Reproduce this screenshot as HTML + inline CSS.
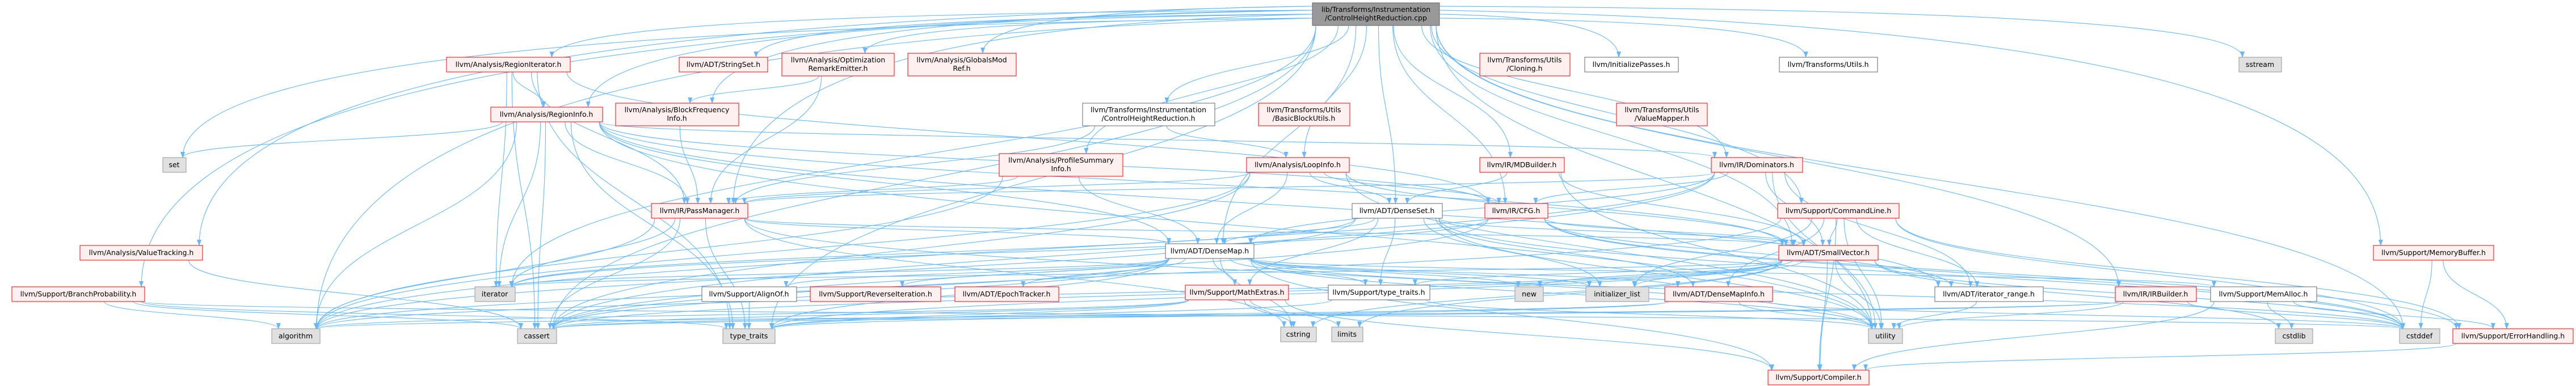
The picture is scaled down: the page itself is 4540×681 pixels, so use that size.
<!DOCTYPE html>
<html><head><meta charset="utf-8"><style>
html,body{margin:0;padding:0;background:#fff;}
svg{display:block;}
text{font-family:"DejaVu Sans","Liberation Sans",sans-serif;font-size:12.5px;fill:#000;text-anchor:middle;}
</style></head><body>
<svg id="g" width="4540" height="681" viewBox="0 0 4540 681" xmlns="http://www.w3.org/2000/svg">
<defs><marker id="a" markerWidth="11" markerHeight="8" refX="10" refY="4" orient="auto" markerUnits="userSpaceOnUse"><path d="M0,0 L11,4 L0,8 z" fill="#63b8ff"/></marker></defs>
<g id="edges" fill="none" stroke="#63b8ff" stroke-width="1.1"></g>
<g id="nodes">
<rect x="2313" y="5" width="224" height="40" fill="#999" stroke="#666"/><text x="2425" y="21">lib/Transforms/Instrumentation</text><text x="2425" y="36">/ControlHeightReduction.cpp</text>

<rect x="787" y="101" width="218" height="26" fill="#fff0f0" stroke="#f00"/><text x="896" y="118">llvm/Analysis/RegionIterator.h</text>
<rect x="1197" y="101" width="156" height="26" fill="#fff0f0" stroke="#f00"/><text x="1275" y="118">llvm/ADT/StringSet.h</text>
<rect x="1378" y="94" width="198" height="40" fill="#fff0f0" stroke="#f00"/><text x="1477" y="110">llvm/Analysis/Optimization</text><text x="1477" y="125">RemarkEmitter.h</text>
<rect x="1600" y="94" width="191" height="40" fill="#fff0f0" stroke="#f00"/><text x="1695" y="110">llvm/Analysis/GlobalsMod</text><text x="1695" y="125">Ref.h</text>
<rect x="2608" y="94" width="159" height="40" fill="#fff0f0" stroke="#f00"/><text x="2687" y="110">llvm/Transforms/Utils</text><text x="2687" y="125">/Cloning.h</text>
<rect x="2793" y="101" width="165" height="26" fill="#fff" stroke="#666"/><text x="2875" y="118">llvm/InitializePasses.h</text>
<rect x="3136" y="101" width="173" height="26" fill="#fff" stroke="#666"/><text x="3222" y="118">llvm/Transforms/Utils.h</text>
<rect x="3946" y="101" width="75" height="26" fill="#e0e0e0" stroke="#999"/><text x="3983" y="118">sstream</text>

<rect x="865" y="189" width="197" height="26" fill="#fff0f0" stroke="#f00"/><text x="963" y="206">llvm/Analysis/RegionInfo.h</text>
<rect x="1085" y="182" width="217" height="40" fill="#fff0f0" stroke="#f00"/><text x="1193" y="198">llvm/Analysis/BlockFrequency</text><text x="1193" y="213">Info.h</text>
<rect x="1908" y="182" width="233" height="40" fill="#fff" stroke="#666"/><text x="2024" y="198">llvm/Transforms/Instrumentation</text><text x="2024" y="213">/ControlHeightReduction.h</text>
<rect x="2218" y="182" width="161" height="40" fill="#fff0f0" stroke="#f00"/><text x="2298" y="198">llvm/Transforms/Utils</text><text x="2298" y="213">/BasicBlockUtils.h</text>
<rect x="2849" y="182" width="160" height="40" fill="#fff0f0" stroke="#f00"/><text x="2929" y="198">llvm/Transforms/Utils</text><text x="2929" y="213">/ValueMapper.h</text>

<rect x="287" y="278" width="41" height="26" fill="#e0e0e0" stroke="#999"/><text x="307" y="295">set</text>
<rect x="1761" y="271" width="218" height="40" fill="#fff0f0" stroke="#f00"/><text x="1870" y="287">llvm/Analysis/ProfileSummary</text><text x="1870" y="302">Info.h</text>
<rect x="2197" y="278" width="181" height="26" fill="#fff0f0" stroke="#f00"/><text x="2287" y="295">llvm/Analysis/LoopInfo.h</text>
<rect x="2608" y="278" width="149" height="26" fill="#fff0f0" stroke="#f00"/><text x="2682" y="295">llvm/IR/MDBuilder.h</text>
<rect x="3016" y="278" width="161" height="26" fill="#fff0f0" stroke="#f00"/><text x="3096" y="295">llvm/IR/Dominators.h</text>

<rect x="1148" y="359" width="170" height="26" fill="#fff0f0" stroke="#f00"/><text x="1233" y="376">llvm/IR/PassManager.h</text>
<rect x="2383" y="359" width="159" height="26" fill="#fff" stroke="#666"/><text x="2462" y="376">llvm/ADT/DenseSet.h</text>
<rect x="2617" y="359" width="111" height="26" fill="#fff0f0" stroke="#f00"/><text x="2672" y="376">llvm/IR/CFG.h</text>
<rect x="3133" y="359" width="214" height="26" fill="#fff0f0" stroke="#f00"/><text x="3240" y="376">llvm/Support/CommandLine.h</text>

<rect x="141" y="433" width="216" height="26" fill="#fff0f0" stroke="#f00"/><text x="249" y="450">llvm/Analysis/ValueTracking.h</text>
<rect x="2054" y="430" width="156" height="26" fill="#fff" stroke="#666"/><text x="2132" y="447">llvm/ADT/DenseMap.h</text>
<rect x="3135" y="433" width="175" height="26" fill="#fff0f0" stroke="#f00"/><text x="3222" y="450">llvm/ADT/SmallVector.h</text>
<rect x="4183" y="433" width="212" height="26" fill="#fff0f0" stroke="#f00"/><text x="4289" y="450">llvm/Support/MemoryBuffer.h</text>

<rect x="21" y="506" width="234" height="26" fill="#fff0f0" stroke="#f00"/><text x="138" y="523">llvm/Support/BranchProbability.h</text>
<rect x="837" y="506" width="71" height="26" fill="#e0e0e0" stroke="#999"/><text x="872" y="523">iterator</text>
<rect x="1237" y="506" width="167" height="26" fill="#fff" stroke="#666"/><text x="1320" y="523">llvm/Support/AlignOf.h</text>
<rect x="1428" y="506" width="230" height="26" fill="#fff0f0" stroke="#f00"/><text x="1543" y="523">llvm/Support/ReverseIteration.h</text>
<rect x="1683" y="506" width="183" height="26" fill="#fff0f0" stroke="#f00"/><text x="1774" y="523">llvm/ADT/EpochTracker.h</text>
<rect x="2089" y="503" width="182" height="26" fill="#fff0f0" stroke="#f00"/><text x="2180" y="520">llvm/Support/MathExtras.h</text>
<rect x="2341" y="503" width="179" height="26" fill="#fff" stroke="#666"/><text x="2430" y="520">llvm/Support/type_traits.h</text>
<rect x="2670" y="506" width="50" height="26" fill="#e0e0e0" stroke="#999"/><text x="2695" y="523">new</text>
<rect x="2795" y="506" width="111" height="26" fill="#e0e0e0" stroke="#999"/><text x="2850" y="523">initializer_list</text>
<rect x="2934" y="506" width="190" height="26" fill="#fff0f0" stroke="#f00"/><text x="3029" y="523">llvm/ADT/DenseMapInfo.h</text>
<rect x="3410" y="506" width="191" height="26" fill="#fff" stroke="#666"/><text x="3505" y="523">llvm/ADT/iterator_range.h</text>
<rect x="3728" y="506" width="143" height="26" fill="#fff0f0" stroke="#f00"/><text x="3799" y="523">llvm/IR/IRBuilder.h</text>
<rect x="3896" y="506" width="187" height="26" fill="#fff" stroke="#666"/><text x="3989" y="523">llvm/Support/MemAlloc.h</text>

<rect x="479" y="580" width="85" height="26" fill="#e0e0e0" stroke="#999"/><text x="521" y="597">algorithm</text>
<rect x="912" y="580" width="69" height="26" fill="#e0e0e0" stroke="#999"/><text x="946" y="597">cassert</text>
<rect x="1274" y="580" width="92" height="26" fill="#e0e0e0" stroke="#999"/><text x="1320" y="597">type_traits</text>
<rect x="2257" y="577" width="63" height="26" fill="#e0e0e0" stroke="#999"/><text x="2288" y="594">cstring</text>
<rect x="2347" y="577" width="55" height="26" fill="#e0e0e0" stroke="#999"/><text x="2374" y="594">limits</text>
<rect x="3293" y="580" width="60" height="26" fill="#e0e0e0" stroke="#999"/><text x="3323" y="597">utility</text>
<rect x="4010" y="580" width="66" height="26" fill="#e0e0e0" stroke="#999"/><text x="4043" y="597">cstdlib</text>
<rect x="4229" y="580" width="71" height="26" fill="#e0e0e0" stroke="#999"/><text x="4264" y="597">cstddef</text>
<rect x="4323" y="580" width="212" height="26" fill="#fff0f0" stroke="#f00"/><text x="4429" y="597">llvm/Support/ErrorHandling.h</text>

<rect x="3116" y="653" width="178" height="26" fill="#fff0f0" stroke="#f00"/><text x="3205" y="670">llvm/Support/Compiler.h</text>
</g>
</svg>
<script>
var N={};
document.querySelectorAll('#nodes rect').forEach(function(r){
 var t=r.nextElementSibling;var x=+r.getAttribute('x'),y=+r.getAttribute('y'),w=+r.getAttribute('width'),h=+r.getAttribute('height');
 var lab=t.textContent.replace(/^llvm\//,'').replace(/^lib\/.*/,'root');
 N[lab]={x:x,y:y,w:w,h:h,cx:x+w/2,cy:y+h/2};
});
var E={
root:['RegionIterator','StringSet','Optimization','GlobalsMod','BlockFrequency','RegionInfo','set','ValueTracking','BranchProbability','/Instrumentation','/BasicBlockUtils.h','ProfileSummary','DenseMap','DenseSet','CFG','MDBuilder','/Cloning.h','InitializePasses','/ValueMapper.h','Utils.h','sstream','Dominators','CommandLine','IRBuilder','MemoryBuffer','LoopInfo','SmallVector','PassManager','algorithm','cassert','iterator','utility','cstddef','type_traits'],
RegionIterator:['RegionInfo','iterator','cassert','type_traits','CFG','PassManager'],
RegionInfo:['set','PassManager','DenseMap','algorithm','cassert','type_traits','iterator_range','SmallVector','CFG','Dominators','utility','iterator'],
Optimization:['BlockFrequency','PassManager'],
BlockFrequency:['PassManager'],
PassManager:['DenseMap','SmallVector','algorithm','cassert','iterator','type_traits','utility','cstring'],
ValueTracking:['cassert'],
BranchProbability:['algorithm','cassert','type_traits','cstddef'],
'/Instrumentation':['PassManager','LoopInfo'],
'/BasicBlockUtils.h':['LoopInfo','CFG','PassManager','DenseMap','SmallVector','cassert'],
ProfileSummary:['DenseMap','PassManager','algorithm'],
LoopInfo:['DenseMap','DenseSet','CFG','SmallVector','PassManager','algorithm','utility','cassert'],
MDBuilder:['DenseSet','utility','SmallVector'],
DenseSet:['DenseMap','DenseMapInfo','MathExtras','type_traits.h','initializer_list','iterator','cstddef','utility','algorithm','SmallVector'],
CFG:['iterator_range','SmallVector','iterator','cassert','cstddef','ErrorHandling'],
'/Cloning.h':['/ValueMapper.h','SmallVector'],
Dominators:['CFG','DenseMap','SmallVector','PassManager','iterator_range','algorithm','utility','cassert'],
CommandLine:['SmallVector','iterator_range','ErrorHandling','DenseMapInfo','cassert','cstddef','utility','initializer_list','Compiler'],
DenseMap:['DenseMapInfo','EpochTracker','AlignOf','Compiler','MathExtras','MemAlloc','ReverseIteration','type_traits.h','algorithm','cassert','cstddef','cstring','initializer_list','iterator','new','type_traits','utility'],
SmallVector:['Compiler','type_traits.h','algorithm','cassert','cstddef','cstdlib','cstring','initializer_list','iterator','limits','new','type_traits','utility'],
MathExtras:['Compiler','cassert','cstring','limits','type_traits','algorithm'],
'type_traits.h':['type_traits','utility'],
DenseMapInfo:['cassert','cstddef','utility','type_traits'],
AlignOf:['type_traits'],
iterator_range:['utility'],
IRBuilder:['cassert','cstddef','utility','algorithm'],
MemAlloc:['Compiler','ErrorHandling','cstdlib'],
MemoryBuffer:['cstddef','ErrorHandling'],
ErrorHandling:['Compiler']
};
function find(s){
 if(s=='root')return N.root;
 for(var n in N){ if(n=='root')continue; if(n.indexOf(s)>=0)return N[n]; }
 return null;
}
function findExact(s){
 if(s=='type_traits')return N['type_traits'];
 if(s=='iterator')return N['iterator'];
 if(s=='DenseMap')return N['ADT/DenseMap.h'];
 if(s=='Utils.h')return N['Transforms/Utils.h'];
 return find(s);
}
var g=document.getElementById('edges'),out='';
function f(v){return v.toFixed(1);}
var ri=0;
for(var s in E){var S=findExact(s);if(!S)continue;
 E[s].forEach(function(t){var T=findExact(t);if(!T||T===S)return;
  var sb=S.y+S.h,tt=T.y;
  var d;
  var dx=T.cx-S.cx,dy=tt-sb;
  if(s=='root' && Math.abs(dx)>3.5*dy){
   var right=dx>0;var x1=right?S.x+S.w:S.x;ri++;var y1=S.y+6+(ri*7)%28;
   var tx=Math.max(T.x+6,Math.min(T.x+T.w-6,T.cx+(S.cx-T.cx)*0.05));
   var hy=tt-y1;
   d='M'+x1+','+f(y1)+' C'+f(x1+(tx-x1)*0.6)+','+f(y1+hy*0.05)+' '+f(tx)+','+f(tt-hy*0.7)+' '+f(tx)+','+tt;
  } else if(tt>sb+8){
   var sx=Math.max(S.x+6,Math.min(S.x+S.w-6,S.cx+dx*0.12));
   var tx2=Math.max(T.x+6,Math.min(T.x+T.w-6,T.cx-dx*0.08));
   d='M'+f(sx)+','+sb+' C'+f(sx)+','+f(sb+dy*0.5)+' '+f(tx2)+','+f(tt-dy*0.5)+' '+f(tx2)+','+tt;
  }else{
   var r2=T.cx>S.cx;var a1=r2?S.x+S.w:S.x,a2=r2?T.x:T.x+T.w;
   d='M'+a1+','+S.cy+' C'+((a1+a2)/2)+','+S.cy+' '+((a1+a2)/2)+','+T.cy+' '+a2+','+T.cy;
  }
  out+='<path d="'+d+'" marker-end="url(#a)"/>';
 });
}
g.innerHTML=out;
</script>
</body></html>
